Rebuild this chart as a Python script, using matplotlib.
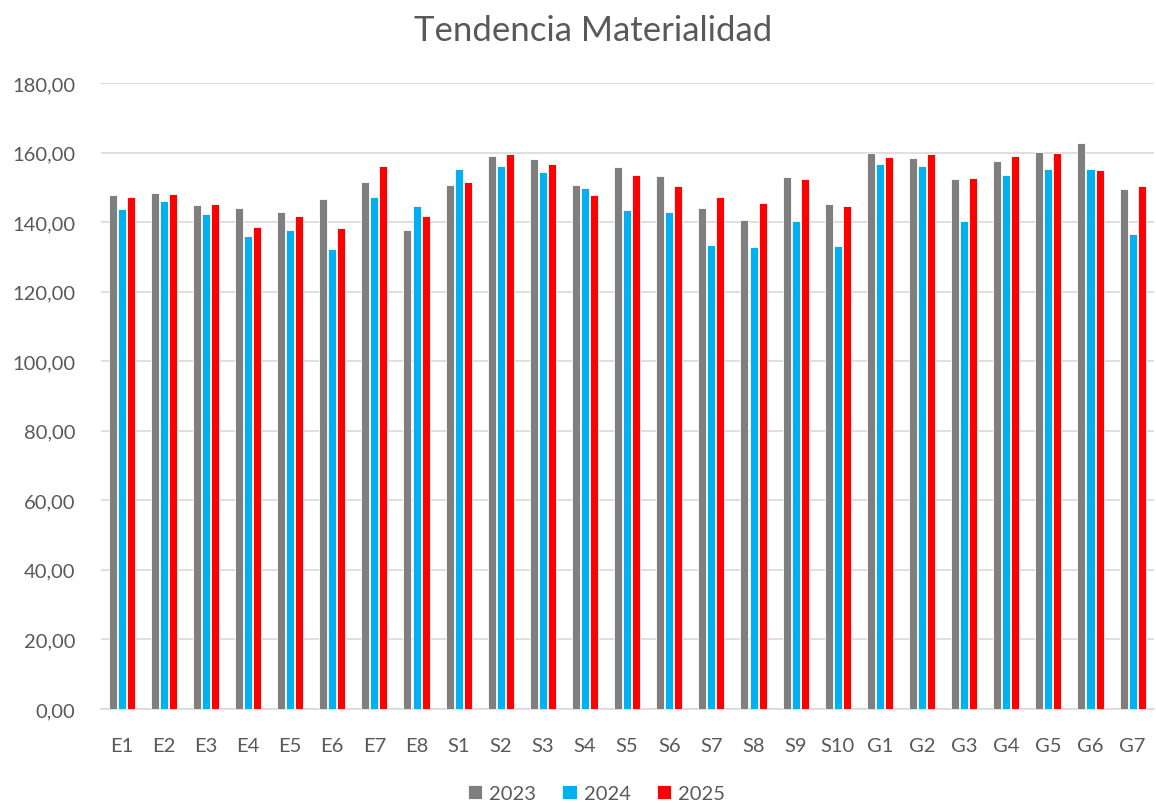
import numpy as np
import matplotlib
matplotlib.use("Agg")
import matplotlib.pyplot as plt
from matplotlib.ticker import FuncFormatter

# Datos
categorias = ["E1", "E2", "E3", "E4", "E5", "E6", "E7", "E8",
              "S1", "S2", "S3", "S4", "S5", "S6", "S7", "S8", "S9", "S10",
              "G1", "G2", "G3", "G4", "G5", "G6", "G7"]
v2023 = [147.7, 148.3, 144.8, 144.0, 142.8, 146.6, 151.5, 137.8,
         150.7, 159.0, 158.2, 150.6, 155.9, 153.2, 144.0, 140.7, 152.9, 145.3,
         159.8, 158.5, 152.5, 157.5, 160.2, 162.7, 149.4]
v2024 = [143.7, 146.0, 142.2, 136.0, 137.8, 132.4, 147.1, 144.7,
         155.2, 156.0, 154.4, 149.9, 143.4, 142.8, 133.3, 132.9, 140.3, 133.2,
         156.7, 156.0, 140.4, 153.5, 155.4, 155.4, 136.7]
v2025 = [147.1, 148.0, 145.1, 138.5, 141.9, 138.4, 156.2, 141.9,
         151.5, 159.7, 156.7, 147.9, 153.6, 150.5, 147.3, 145.6, 152.3, 144.5,
         158.7, 159.5, 152.8, 158.9, 159.9, 154.9, 150.5]
series = ["2023", "2024", "2025"]
colores = ["#7F7F7F", "#00B0F0", "#FF0000"]
texto = "#595959"

plt.rcParams["font.family"] = ["Lato", "DejaVu Sans"]

fig = plt.figure(figsize=(11.56, 8.04), dpi=100)
ax = fig.add_axes([0.087, 0.117, 0.911, 0.7785])

x = np.arange(len(categorias))
ancho = 0.19
desp = 0.215
for i, (vals, nombre, c) in enumerate(zip([v2023, v2024, v2025], series, colores)):
    ax.bar(x + (i - 1) * desp, vals, ancho, color=c, label=nombre,
           edgecolor="white", linewidth=0.6, zorder=3)

ax.set_xlim(-0.5, len(categorias) - 0.5)
ax.set_ylim(0, 180)
ax.set_yticks(np.arange(0, 181, 20))
ax.yaxis.set_major_formatter(FuncFormatter(lambda v, p: f"{v:.2f}".replace(".", ",")))
ax.set_xticks(x)
ax.set_xticklabels(categorias)
ax.tick_params(axis="both", length=0, labelsize=14.5, colors=texto)
ax.tick_params(axis="x", pad=20)
ax.tick_params(axis="y", pad=18)

ax.grid(axis="y", color="#D9D9D9", linewidth=1.2, zorder=0)
for s in ["top", "right", "left"]:
    ax.spines[s].set_visible(False)
ax.spines["bottom"].set_color("#D9D9D9")
ax.spines["bottom"].set_linewidth(1.2)

fig.text(0.513, 0.962, "Tendencia Materialidad", ha="center", va="center",
         fontsize=25, color=texto)

fig.legend(loc="center", bbox_to_anchor=(0.516, 0.012), ncol=3, frameon=False,
           fontsize=14.5, labelcolor=texto, handlelength=0.7, handleheight=0.7,
           handletextpad=0.35, columnspacing=1.3)

fig.savefig("out.png", dpi=100, facecolor="white")
